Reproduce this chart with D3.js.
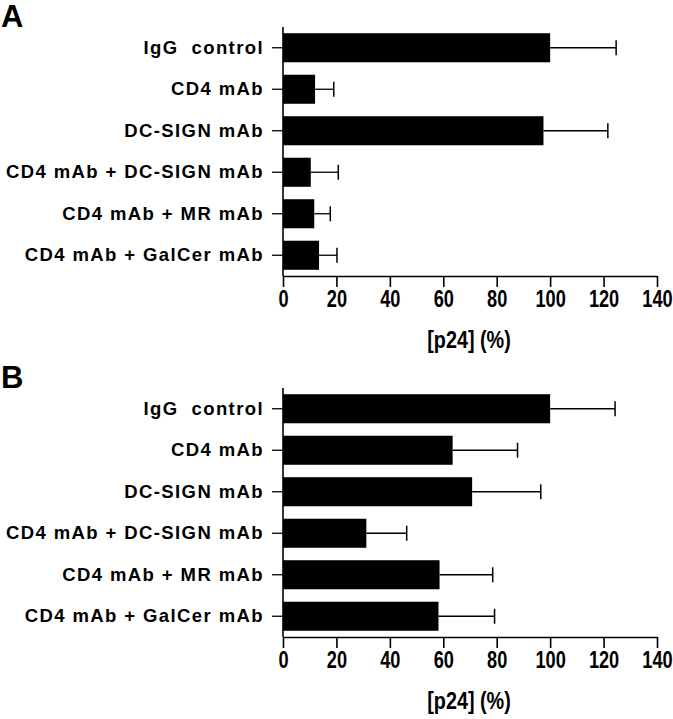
<!DOCTYPE html>
<html>
<head>
<meta charset="utf-8">
<script src="https://cdn.jsdelivr.net/npm/d3@7"></script>
<style>
  body { margin: 0; background: #fff; }
  text { font-family: "Liberation Sans", Arial, sans-serif; font-weight: bold; fill: #000; white-space: pre; }
</style>
</head>
<body>
<div id="chart"></div>
<script>
// categories (top to bottom)
var categories = ["IgG  control", "CD4 mAb", "DC-SIGN mAb", "CD4 mAb + DC-SIGN mAb", "CD4 mAb + MR mAb", "CD4 mAb + GalCer mAb"];
var ticks = [0, 20, 40, 60, 80, 100, 120, 140];

// panel A means and upper error ends
var meanA = [100, 12, 97.5, 10.4, 11.7, 13.5];
var errA  = [124.7, 19, 121.6, 20.7, 17.7, 20.2];

// panel B
var meanB = [100, 63.5, 70.8, 31.2, 58.6, 58.2];
var errB  = [124.3, 87.8, 96.5, 46.3, 78.5, 79.2];

var panels = [
  {name: "A", mean: meanA, err: errA, top: 0},
  {name: "B", mean: meanB, err: errB, top: 361}
];

var W = 673, H = 719;
var svg = d3.select("#chart").append("svg")
  .attr("width", W).attr("height", H);

var x = d3.scaleLinear().domain([0, 140]).range([283, 657]);

panels.forEach(function(p) {
  var g = svg.append("g").attr("transform", "translate(0," + p.top + ")");

  var y = d3.scaleBand()
    .domain(categories)
    .range([27, 276])
    .paddingInner(0.3)
    .paddingOuter(0.15);

  // panel letter
  g.append("text")
    .attr("x", 1).attr("y", 27)
    .style("font-size", "31px")
    .text(p.name);

  // bars
  g.selectAll("rect.bar")
    .data(categories)
    .join("rect")
    .attr("class", "bar")
    .attr("x", x(0))
    .attr("y", d => y(d))
    .attr("width", (d, i) => x(p.mean[i]) - x(0))
    .attr("height", y.bandwidth())
    .attr("fill", "#000");

  // error bars
  var eb = g.selectAll("g.err")
    .data(categories)
    .join("g")
    .attr("class", "err");
  eb.append("line")
    .attr("x1", (d, i) => x(p.mean[i]))
    .attr("x2", (d, i) => x(p.err[i]))
    .attr("y1", d => y(d) + y.bandwidth() / 2)
    .attr("y2", d => y(d) + y.bandwidth() / 2)
    .attr("stroke", "#000").attr("stroke-width", 1.3);
  eb.append("line")
    .attr("x1", (d, i) => x(p.err[i]))
    .attr("x2", (d, i) => x(p.err[i]))
    .attr("y1", d => y(d) + y.bandwidth() / 2 - 7.5)
    .attr("y2", d => y(d) + y.bandwidth() / 2 + 7.5)
    .attr("stroke", "#000").attr("stroke-width", 1.5);

  // y axis
  var yAxis = g.append("g")
    .attr("transform", "translate(" + x(0) + ",0)")
    .call(d3.axisLeft(y).tickSize(11).tickPadding(8));
  yAxis.select(".domain").attr("stroke-width", 1.6).attr("d", "M0,27V276");
  yAxis.selectAll(".tick line").attr("stroke-width", 1.3);
  yAxis.selectAll(".tick text")
    .attr("xml:space", "preserve")
    .style("font-size", "18.5px")
    .style("letter-spacing", "1.4px");

  // x axis
  var xAxis = g.append("g")
    .attr("transform", "translate(0,276)")
    .call(d3.axisBottom(x).tickValues(ticks).tickSize(11).tickSizeOuter(0).tickPadding(4));
  xAxis.select(".domain").attr("stroke-width", 1.6);
  xAxis.selectAll(".tick line").attr("stroke-width", 1.6);
  xAxis.selectAll(".tick text")
    .style("font-size", "23px")
    .attr("transform", "scale(0.79,1)");

  g.append("text")
    .attr("transform", "translate(469,348) scale(0.86,1)")
    .attr("text-anchor", "middle")
    .style("font-size", "23px")
    .text("[p24] (%)");
});
</script>
</body>
</html>
